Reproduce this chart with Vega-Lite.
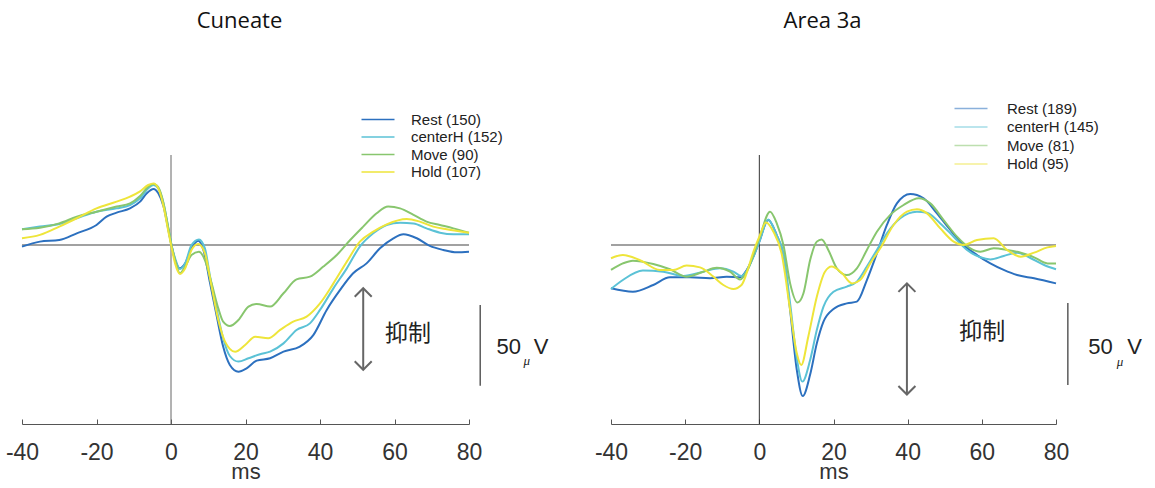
{
  "$schema": "https://vega.github.io/schema/vega-lite/v6.json",
  "background": "white",
  "padding": {"left": 5, "top": 10, "right": 5, "bottom": 5},
  "spacing": 45,
  "config": {
    "view": {"stroke": null},
    "font": "Liberation Sans",
    "axisX": {
      "tickSize": -5,
      "labelPadding": 22,
      "labelFontSize": 23,
      "labelFont": "Liberation Sans",
      "labelColor": "#333",
      "labelFlush": false,
      "labelOverlap": false,
      "domainColor": "#555",
      "tickColor": "#555",
      "grid": false,
      "titleFontSize": 22,
      "titleFont": "Liberation Sans",
      "titleFontWeight": "normal",
      "titleColor": "#333",
      "titlePadding": -3
    },
    "legend": {
      "orient": "none",
      "title": null,
      "padding": 0,
      "symbolType": "M-3,0H3",
      "symbolSize": 121,
      "symbolStrokeWidth": 1.3,
      "labelFontSize": 15,
      "labelFont": "Liberation Sans",
      "labelColor": "#222"
    }
  },
  "resolve": {"scale": {"color": "independent", "x": "independent", "y": "independent"}},
  "datasets": {
    "cun": [
      {"t": -40, "v": -1.0, "s": "Rest (150)"}, {"t": -35.2, "v": 2.1, "s": "Rest (150)"}, {"t": -30, "v": 3.1, "s": "Rest (150)"}, {"t": -25.3, "v": 7.3, "s": "Rest (150)"}, {"t": -20, "v": 12.5, "s": "Rest (150)"}, {"t": -17.3, "v": 17.7, "s": "Rest (150)"}, {"t": -14.6, "v": 20.2, "s": "Rest (150)"}, {"t": -11, "v": 22.9, "s": "Rest (150)"}, {"t": -8.3, "v": 27.1, "s": "Rest (150)"}, {"t": -6.5, "v": 32.3, "s": "Rest (150)"}, {"t": -4.7, "v": 35, "s": "Rest (150)"}, {"t": -3.4, "v": 32.3, "s": "Rest (150)"}, {"t": -2, "v": 24, "s": "Rest (150)"}, {"t": -0.7, "v": 9.4, "s": "Rest (150)"}, {"t": 0.2, "v": -1, "s": "Rest (150)"}, {"t": 1.1, "v": -9.4, "s": "Rest (150)"}, {"t": 2.4, "v": -14.6, "s": "Rest (150)"}, {"t": 3.8, "v": -11.5, "s": "Rest (150)"}, {"t": 5.5, "v": -2.1, "s": "Rest (150)"}, {"t": 7.3, "v": 2.7, "s": "Rest (150)"}, {"t": 8.7, "v": -3.1, "s": "Rest (150)"}, {"t": 10.5, "v": -24, "s": "Rest (150)"}, {"t": 12.3, "v": -44.8, "s": "Rest (150)"}, {"t": 14, "v": -63.5, "s": "Rest (150)"}, {"t": 15.8, "v": -75, "s": "Rest (150)"}, {"t": 18.1, "v": -79.2, "s": "Rest (150)"}, {"t": 20.3, "v": -77.1, "s": "Rest (150)"}, {"t": 23, "v": -72.3, "s": "Rest (150)"}, {"t": 26.6, "v": -70.8, "s": "Rest (150)"}, {"t": 30.2, "v": -66.7, "s": "Rest (150)"}, {"t": 34.6, "v": -63.5, "s": "Rest (150)"}, {"t": 38.2, "v": -56.3, "s": "Rest (150)"}, {"t": 41.8, "v": -40.6, "s": "Rest (150)"}, {"t": 45.4, "v": -28.1, "s": "Rest (150)"}, {"t": 48.9, "v": -17.7, "s": "Rest (150)"}, {"t": 52.5, "v": -11.5, "s": "Rest (150)"}, {"t": 56.1, "v": -2.1, "s": "Rest (150)"}, {"t": 59.7, "v": 4.2, "s": "Rest (150)"}, {"t": 62.4, "v": 6.7, "s": "Rest (150)"}, {"t": 66, "v": 4.2, "s": "Rest (150)"}, {"t": 69.5, "v": -0.6, "s": "Rest (150)"}, {"t": 73.1, "v": -3.1, "s": "Rest (150)"}, {"t": 76.7, "v": -4.6, "s": "Rest (150)"}, {"t": 80, "v": -4.2, "s": "Rest (150)"},
      {"t": -40, "v": 9.8, "s": "centerH (152)"}, {"t": -35.2, "v": 11.5, "s": "centerH (152)"}, {"t": -30, "v": 13.1, "s": "centerH (152)"}, {"t": -25.3, "v": 16.7, "s": "centerH (152)"}, {"t": -20, "v": 20.8, "s": "centerH (152)"}, {"t": -14.6, "v": 22.9, "s": "centerH (152)"}, {"t": -11, "v": 25, "s": "centerH (152)"}, {"t": -8.3, "v": 29.2, "s": "centerH (152)"}, {"t": -6.1, "v": 35.4, "s": "centerH (152)"}, {"t": -4.7, "v": 37.5, "s": "centerH (152)"}, {"t": -3.4, "v": 35.4, "s": "centerH (152)"}, {"t": -2, "v": 26, "s": "centerH (152)"}, {"t": -0.7, "v": 10.4, "s": "centerH (152)"}, {"t": 0.2, "v": -0.6, "s": "centerH (152)"}, {"t": 1.1, "v": -8.3, "s": "centerH (152)"}, {"t": 2.4, "v": -15, "s": "centerH (152)"}, {"t": 3.8, "v": -11.5, "s": "centerH (152)"}, {"t": 5.5, "v": 0, "s": "centerH (152)"}, {"t": 7.5, "v": 3.5, "s": "centerH (152)"}, {"t": 9.1, "v": -2.1, "s": "centerH (152)"}, {"t": 10.5, "v": -19.8, "s": "centerH (152)"}, {"t": 12.3, "v": -40.6, "s": "centerH (152)"}, {"t": 14, "v": -58.3, "s": "centerH (152)"}, {"t": 15.8, "v": -69.4, "s": "centerH (152)"}, {"t": 18.1, "v": -72.9, "s": "centerH (152)"}, {"t": 20.8, "v": -70.8, "s": "centerH (152)"}, {"t": 23.9, "v": -68.3, "s": "centerH (152)"}, {"t": 26.6, "v": -66.7, "s": "centerH (152)"}, {"t": 30.2, "v": -61.5, "s": "centerH (152)"}, {"t": 33.7, "v": -53.1, "s": "centerH (152)"}, {"t": 37.3, "v": -49, "s": "centerH (152)"}, {"t": 40, "v": -40.6, "s": "centerH (152)"}, {"t": 43.6, "v": -27.1, "s": "centerH (152)"}, {"t": 47.2, "v": -14.6, "s": "centerH (152)"}, {"t": 50.7, "v": -1, "s": "centerH (152)"}, {"t": 54.3, "v": 7.3, "s": "centerH (152)"}, {"t": 57.9, "v": 12.5, "s": "centerH (152)"}, {"t": 61.5, "v": 13.9, "s": "centerH (152)"}, {"t": 65.1, "v": 13.5, "s": "centerH (152)"}, {"t": 68.6, "v": 10.4, "s": "centerH (152)"}, {"t": 72.2, "v": 7.7, "s": "centerH (152)"}, {"t": 75.8, "v": 6.7, "s": "centerH (152)"}, {"t": 80, "v": 6.7, "s": "centerH (152)"},
      {"t": -40, "v": 9.8, "s": "Move (90)"}, {"t": -35.2, "v": 10.8, "s": "Move (90)"}, {"t": -30, "v": 13.5, "s": "Move (90)"}, {"t": -25.3, "v": 17.7, "s": "Move (90)"}, {"t": -20, "v": 20.8, "s": "Move (90)"}, {"t": -14.6, "v": 24, "s": "Move (90)"}, {"t": -11, "v": 26, "s": "Move (90)"}, {"t": -8.3, "v": 30.6, "s": "Move (90)"}, {"t": -6.1, "v": 36.5, "s": "Move (90)"}, {"t": -4.7, "v": 38.1, "s": "Move (90)"}, {"t": -3.4, "v": 36, "s": "Move (90)"}, {"t": -2, "v": 26, "s": "Move (90)"}, {"t": -0.7, "v": 10.4, "s": "Move (90)"}, {"t": 0.2, "v": -1, "s": "Move (90)"}, {"t": 1.1, "v": -9.4, "s": "Move (90)"}, {"t": 2.4, "v": -17.7, "s": "Move (90)"}, {"t": 3.8, "v": -13.5, "s": "Move (90)"}, {"t": 5.5, "v": -6.3, "s": "Move (90)"}, {"t": 7.5, "v": -4.2, "s": "Move (90)"}, {"t": 9.1, "v": -9.4, "s": "Move (90)"}, {"t": 10.9, "v": -24, "s": "Move (90)"}, {"t": 12.7, "v": -39.6, "s": "Move (90)"}, {"t": 14, "v": -47.9, "s": "Move (90)"}, {"t": 15.8, "v": -50.6, "s": "Move (90)"}, {"t": 18.1, "v": -46.9, "s": "Move (90)"}, {"t": 20.8, "v": -38.5, "s": "Move (90)"}, {"t": 23, "v": -36.9, "s": "Move (90)"}, {"t": 26.6, "v": -38.5, "s": "Move (90)"}, {"t": 30.2, "v": -30.2, "s": "Move (90)"}, {"t": 33.7, "v": -21.5, "s": "Move (90)"}, {"t": 37.3, "v": -19.8, "s": "Move (90)"}, {"t": 40.9, "v": -13.5, "s": "Move (90)"}, {"t": 44.5, "v": -6.3, "s": "Move (90)"}, {"t": 48.1, "v": 3.1, "s": "Move (90)"}, {"t": 51.6, "v": 11.5, "s": "Move (90)"}, {"t": 55.2, "v": 19.8, "s": "Move (90)"}, {"t": 58.3, "v": 24, "s": "Move (90)"}, {"t": 61.5, "v": 22.9, "s": "Move (90)"}, {"t": 65.1, "v": 18.8, "s": "Move (90)"}, {"t": 68.6, "v": 14.6, "s": "Move (90)"}, {"t": 72.2, "v": 12.5, "s": "Move (90)"}, {"t": 75.8, "v": 10.4, "s": "Move (90)"}, {"t": 80, "v": 7.7, "s": "Move (90)"},
      {"t": -40, "v": 4.2, "s": "Hold (107)"}, {"t": -35.2, "v": 6.3, "s": "Hold (107)"}, {"t": -30, "v": 11.5, "s": "Hold (107)"}, {"t": -25.3, "v": 16.7, "s": "Hold (107)"}, {"t": -20, "v": 22.9, "s": "Hold (107)"}, {"t": -14.6, "v": 27.1, "s": "Hold (107)"}, {"t": -11, "v": 30.2, "s": "Hold (107)"}, {"t": -8.3, "v": 33.5, "s": "Hold (107)"}, {"t": -6.1, "v": 37.5, "s": "Hold (107)"}, {"t": -4.7, "v": 38.5, "s": "Hold (107)"}, {"t": -3.4, "v": 35.4, "s": "Hold (107)"}, {"t": -2, "v": 24, "s": "Hold (107)"}, {"t": -0.7, "v": 8.3, "s": "Hold (107)"}, {"t": 0.2, "v": -2.1, "s": "Hold (107)"}, {"t": 1.1, "v": -11.5, "s": "Hold (107)"}, {"t": 2.4, "v": -18.1, "s": "Hold (107)"}, {"t": 3.8, "v": -14.6, "s": "Hold (107)"}, {"t": 5.5, "v": -3.1, "s": "Hold (107)"}, {"t": 7.3, "v": 0.6, "s": "Hold (107)"}, {"t": 9.1, "v": -5.2, "s": "Hold (107)"}, {"t": 10.9, "v": -26, "s": "Hold (107)"}, {"t": 12.7, "v": -46.9, "s": "Hold (107)"}, {"t": 14.5, "v": -60.4, "s": "Hold (107)"}, {"t": 17.2, "v": -66.7, "s": "Hold (107)"}, {"t": 19.9, "v": -62.5, "s": "Hold (107)"}, {"t": 22.6, "v": -57.3, "s": "Hold (107)"}, {"t": 26.1, "v": -58.3, "s": "Hold (107)"}, {"t": 29.3, "v": -53.1, "s": "Hold (107)"}, {"t": 32.8, "v": -47.9, "s": "Hold (107)"}, {"t": 36.4, "v": -44.8, "s": "Hold (107)"}, {"t": 40, "v": -36.5, "s": "Hold (107)"}, {"t": 43.6, "v": -24, "s": "Hold (107)"}, {"t": 47.2, "v": -10.4, "s": "Hold (107)"}, {"t": 50.7, "v": 2.1, "s": "Hold (107)"}, {"t": 54.3, "v": 8.3, "s": "Hold (107)"}, {"t": 57.9, "v": 12.9, "s": "Hold (107)"}, {"t": 63.3, "v": 16.3, "s": "Hold (107)"}, {"t": 66.8, "v": 14.6, "s": "Hold (107)"}, {"t": 70.4, "v": 11.5, "s": "Hold (107)"}, {"t": 74, "v": 9.8, "s": "Hold (107)"}, {"t": 80, "v": 7.7, "s": "Hold (107)"}
    ],
    "a3a": [
      {"t": -40, "v": -27.1, "s": "Rest (189)"}, {"t": -34.1, "v": -29.2, "s": "Rest (189)"}, {"t": -28.6, "v": -25, "s": "Rest (189)"}, {"t": -24.1, "v": -20.2, "s": "Rest (189)"}, {"t": -18.7, "v": -20.2, "s": "Rest (189)"}, {"t": -13.3, "v": -20.8, "s": "Rest (189)"}, {"t": -8.8, "v": -19.8, "s": "Rest (189)"}, {"t": -5.2, "v": -20.2, "s": "Rest (189)"}, {"t": -3.4, "v": -15.6, "s": "Rest (189)"}, {"t": -1.6, "v": -7.3, "s": "Rest (189)"}, {"t": 0, "v": 2.1, "s": "Rest (189)"}, {"t": 2.4, "v": 15.6, "s": "Rest (189)"}, {"t": 4.7, "v": 6, "s": "Rest (189)"}, {"t": 6.5, "v": -6.3, "s": "Rest (189)"}, {"t": 8.3, "v": -40.6, "s": "Rest (189)"}, {"t": 10.1, "v": -78, "s": "Rest (189)"}, {"t": 11.7, "v": -94.4, "s": "Rest (189)"}, {"t": 13.7, "v": -81, "s": "Rest (189)"}, {"t": 15.5, "v": -61.5, "s": "Rest (189)"}, {"t": 17.3, "v": -47.9, "s": "Rest (189)"}, {"t": 20, "v": -40, "s": "Rest (189)"}, {"t": 23.6, "v": -36.5, "s": "Rest (189)"}, {"t": 26.3, "v": -35.4, "s": "Rest (189)"}, {"t": 29, "v": -21.9, "s": "Rest (189)"}, {"t": 31.7, "v": -5.2, "s": "Rest (189)"}, {"t": 34.4, "v": 12.5, "s": "Rest (189)"}, {"t": 37.1, "v": 26, "s": "Rest (189)"}, {"t": 40.7, "v": 31.9, "s": "Rest (189)"}, {"t": 44.3, "v": 29.2, "s": "Rest (189)"}, {"t": 47.9, "v": 19.8, "s": "Rest (189)"}, {"t": 51.5, "v": 9.4, "s": "Rest (189)"}, {"t": 55.1, "v": 0, "s": "Rest (189)"}, {"t": 58.7, "v": -6.3, "s": "Rest (189)"}, {"t": 62.3, "v": -11.5, "s": "Rest (189)"}, {"t": 65.9, "v": -15.6, "s": "Rest (189)"}, {"t": 69.5, "v": -18.8, "s": "Rest (189)"}, {"t": 74.1, "v": -20.8, "s": "Rest (189)"}, {"t": 80, "v": -24, "s": "Rest (189)"},
      {"t": -40, "v": -27.5, "s": "centerH (145)"}, {"t": -36.8, "v": -21.9, "s": "centerH (145)"}, {"t": -31.4, "v": -16, "s": "centerH (145)"}, {"t": -25.9, "v": -16.7, "s": "centerH (145)"}, {"t": -20.5, "v": -19.4, "s": "centerH (145)"}, {"t": -15.1, "v": -16.7, "s": "centerH (145)"}, {"t": -10.6, "v": -14.6, "s": "centerH (145)"}, {"t": -7, "v": -16.7, "s": "centerH (145)"}, {"t": -4.8, "v": -19.4, "s": "centerH (145)"}, {"t": -3, "v": -14.6, "s": "centerH (145)"}, {"t": -1.6, "v": -7.3, "s": "centerH (145)"}, {"t": 0, "v": 2.1, "s": "centerH (145)"}, {"t": 2.4, "v": 16, "s": "centerH (145)"}, {"t": 4.7, "v": 6, "s": "centerH (145)"}, {"t": 6.5, "v": -5.2, "s": "centerH (145)"}, {"t": 8.3, "v": -36.5, "s": "centerH (145)"}, {"t": 10.1, "v": -70.8, "s": "centerH (145)"}, {"t": 11.6, "v": -85.4, "s": "centerH (145)"}, {"t": 13.7, "v": -71.9, "s": "centerH (145)"}, {"t": 15.5, "v": -53.1, "s": "centerH (145)"}, {"t": 17.3, "v": -38.5, "s": "centerH (145)"}, {"t": 20, "v": -29.2, "s": "centerH (145)"}, {"t": 23.6, "v": -26, "s": "centerH (145)"}, {"t": 26.3, "v": -22.9, "s": "centerH (145)"}, {"t": 29, "v": -13.5, "s": "centerH (145)"}, {"t": 31.7, "v": -3.1, "s": "centerH (145)"}, {"t": 34.4, "v": 7.3, "s": "centerH (145)"}, {"t": 38, "v": 16.7, "s": "centerH (145)"}, {"t": 42.5, "v": 20.8, "s": "centerH (145)"}, {"t": 45.2, "v": 20.2, "s": "centerH (145)"}, {"t": 48.8, "v": 13.5, "s": "centerH (145)"}, {"t": 52.4, "v": 5.2, "s": "centerH (145)"}, {"t": 56, "v": -3.1, "s": "centerH (145)"}, {"t": 59.6, "v": -7.7, "s": "centerH (145)"}, {"t": 62.3, "v": -9, "s": "centerH (145)"}, {"t": 65.9, "v": -6.9, "s": "centerH (145)"}, {"t": 69.5, "v": -4.8, "s": "centerH (145)"}, {"t": 73.2, "v": -8.3, "s": "centerH (145)"}, {"t": 76.8, "v": -12.5, "s": "centerH (145)"}, {"t": 80, "v": -15.2, "s": "centerH (145)"},
      {"t": -40, "v": -15.6, "s": "Move (81)"}, {"t": -36.8, "v": -11.5, "s": "Move (81)"}, {"t": -34.1, "v": -9.8, "s": "Move (81)"}, {"t": -28.6, "v": -11.9, "s": "Move (81)"}, {"t": -24.1, "v": -15.2, "s": "Move (81)"}, {"t": -19.6, "v": -19.8, "s": "Move (81)"}, {"t": -15.1, "v": -16.7, "s": "Move (81)"}, {"t": -11.5, "v": -14.2, "s": "Move (81)"}, {"t": -7.9, "v": -16.7, "s": "Move (81)"}, {"t": -5.2, "v": -21.5, "s": "Move (81)"}, {"t": -3.4, "v": -16.7, "s": "Move (81)"}, {"t": -1.6, "v": -6.3, "s": "Move (81)"}, {"t": 0, "v": 4.2, "s": "Move (81)"}, {"t": 2.9, "v": 20.8, "s": "Move (81)"}, {"t": 4.7, "v": 13.5, "s": "Move (81)"}, {"t": 6.5, "v": 0, "s": "Move (81)"}, {"t": 8.3, "v": -24, "s": "Move (81)"}, {"t": 10.3, "v": -36, "s": "Move (81)"}, {"t": 11.9, "v": -30.2, "s": "Move (81)"}, {"t": 13.7, "v": -9.4, "s": "Move (81)"}, {"t": 15.5, "v": 2.1, "s": "Move (81)"}, {"t": 16.8, "v": 3.5, "s": "Move (81)"}, {"t": 18.6, "v": -3.1, "s": "Move (81)"}, {"t": 20.9, "v": -14.6, "s": "Move (81)"}, {"t": 23.6, "v": -18.8, "s": "Move (81)"}, {"t": 26.3, "v": -14.6, "s": "Move (81)"}, {"t": 29, "v": -3.1, "s": "Move (81)"}, {"t": 31.7, "v": 8.3, "s": "Move (81)"}, {"t": 35.3, "v": 18.8, "s": "Move (81)"}, {"t": 38.9, "v": 25, "s": "Move (81)"}, {"t": 43, "v": 29.2, "s": "Move (81)"}, {"t": 46.1, "v": 26, "s": "Move (81)"}, {"t": 49.7, "v": 15.6, "s": "Move (81)"}, {"t": 53.3, "v": 5.2, "s": "Move (81)"}, {"t": 56.9, "v": -2.1, "s": "Move (81)"}, {"t": 59.6, "v": -4.2, "s": "Move (81)"}, {"t": 63.2, "v": -2.1, "s": "Move (81)"}, {"t": 66.8, "v": -3.1, "s": "Move (81)"}, {"t": 70.5, "v": -4.8, "s": "Move (81)"}, {"t": 74.1, "v": -7.7, "s": "Move (81)"}, {"t": 77.7, "v": -11.5, "s": "Move (81)"}, {"t": 80, "v": -11.5, "s": "Move (81)"},
      {"t": -40, "v": -8.3, "s": "Hold (95)"}, {"t": -36.8, "v": -6.3, "s": "Hold (95)"}, {"t": -32.3, "v": -9.4, "s": "Hold (95)"}, {"t": -26.8, "v": -15.6, "s": "Hold (95)"}, {"t": -23.2, "v": -15.6, "s": "Hold (95)"}, {"t": -19.6, "v": -12.9, "s": "Hold (95)"}, {"t": -16, "v": -14, "s": "Hold (95)"}, {"t": -12.4, "v": -19.8, "s": "Hold (95)"}, {"t": -9.7, "v": -25, "s": "Hold (95)"}, {"t": -7, "v": -27.5, "s": "Hold (95)"}, {"t": -4.8, "v": -25, "s": "Hold (95)"}, {"t": -3, "v": -14.6, "s": "Hold (95)"}, {"t": -1.6, "v": -4.2, "s": "Hold (95)"}, {"t": 0, "v": 5.2, "s": "Hold (95)"}, {"t": 1.8, "v": 14, "s": "Hold (95)"}, {"t": 3.8, "v": 8.3, "s": "Hold (95)"}, {"t": 6, "v": -5.2, "s": "Hold (95)"}, {"t": 8.3, "v": -40.6, "s": "Hold (95)"}, {"t": 10.1, "v": -67.7, "s": "Hold (95)"}, {"t": 11.3, "v": -75, "s": "Hold (95)"}, {"t": 13.2, "v": -57.3, "s": "Hold (95)"}, {"t": 15.5, "v": -32.3, "s": "Hold (95)"}, {"t": 17.7, "v": -16.7, "s": "Hold (95)"}, {"t": 19.5, "v": -13.5, "s": "Hold (95)"}, {"t": 22.3, "v": -17.7, "s": "Hold (95)"}, {"t": 25, "v": -24, "s": "Hold (95)"}, {"t": 27.2, "v": -21.9, "s": "Hold (95)"}, {"t": 29.9, "v": -11.5, "s": "Hold (95)"}, {"t": 32.6, "v": -2.1, "s": "Hold (95)"}, {"t": 36.2, "v": 12.5, "s": "Hold (95)"}, {"t": 39.8, "v": 20.8, "s": "Hold (95)"}, {"t": 42.5, "v": 22.3, "s": "Hold (95)"}, {"t": 45.2, "v": 19.8, "s": "Hold (95)"}, {"t": 48.8, "v": 10.4, "s": "Hold (95)"}, {"t": 52.4, "v": 2.1, "s": "Hold (95)"}, {"t": 55.1, "v": 0, "s": "Hold (95)"}, {"t": 58.7, "v": 3.1, "s": "Hold (95)"}, {"t": 63.2, "v": 4.2, "s": "Hold (95)"}, {"t": 66.8, "v": -3.1, "s": "Hold (95)"}, {"t": 70.5, "v": -7.3, "s": "Hold (95)"}, {"t": 74.1, "v": -4.8, "s": "Hold (95)"}, {"t": 77.7, "v": -1.5, "s": "Hold (95)"}, {"t": 80, "v": -0.6, "s": "Hold (95)"}
    ]
  },
  "hconcat": [
    {
      "width": 447,
      "height": 269,
      "title": {"text": "Cuneate", "font": "Open Sans", "fontSize": 22, "fontWeight": "normal", "color": "#111", "frame": "group", "anchor": "middle", "baseline": "alphabetic", "offset": 62, "dx": -6},
      "layer": [
        {"data": {"values": [{"v": 0}]}, "mark": {"type": "rule", "color": "#444", "strokeWidth": 1.2},
         "encoding": {"y": {"field": "v", "type": "quantitative", "scale": {"domain": [-111.9, 56.25], "nice": false, "zero": false}, "axis": null}}},
        {"data": {"values": [{"t": 0}]}, "mark": {"type": "rule", "color": "#666", "strokeWidth": 1},
         "encoding": {"x": {"field": "t", "type": "quantitative", "title": "ms", "scale": {"domain": [-40, 80], "nice": false, "zero": false}, "axis": {"values": [-40, -20, 0, 20, 40, 60, 80], "labelExpr": "'' + datum.value"}}}},
        {"data": {"name": "cun"}, "mark": {"type": "line", "interpolate": "monotone", "strokeWidth": 2},
         "encoding": {
           "x": {"field": "t", "type": "quantitative", "title": "ms", "scale": {"domain": [-40, 80], "nice": false, "zero": false}, "axis": {"values": [-40, -20, 0, 20, 40, 60, 80], "labelExpr": "'' + datum.value"}},
           "y": {"field": "v", "type": "quantitative", "scale": {"domain": [-111.9, 56.25], "nice": false, "zero": false}, "axis": null},
           "color": {"field": "s", "type": "nominal",
             "scale": {"domain": ["Rest (150)", "centerH (152)", "Move (90)", "Hold (107)"], "range": ["#2c70bf", "#5bc2d6", "#88c66e", "#eee53a"]},
             "legend": {"legendX": 348.5, "legendY": -43, "labelOffset": 25.5, "rowPadding": 1.5}}
         }},
        {"data": {"values": [{"t": 51.6, "v": -27, "v2": -78}]}, "mark": {"type": "rule", "color": "#666", "strokeWidth": 2},
         "encoding": {
           "x": {"field": "t", "type": "quantitative", "title": "ms", "scale": {"domain": [-40, 80], "nice": false, "zero": false}, "axis": {"values": [-40, -20, 0, 20, 40, 60, 80], "labelExpr": "'' + datum.value"}},
           "y": {"field": "v", "type": "quantitative", "scale": {"domain": [-111.9, 56.25], "nice": false, "zero": false}, "axis": null},
           "y2": {"field": "v2"}}},
        {"data": {"values": [{"t": 51.6, "v": -27}]}, "mark": {"type": "point", "shape": "M-1,1L0,0L1,1", "filled": false, "size": 289, "stroke": "#666", "strokeWidth": 2, "opacity": 1},
         "encoding": {
           "x": {"field": "t", "type": "quantitative", "title": "ms", "scale": {"domain": [-40, 80], "nice": false, "zero": false}, "axis": {"values": [-40, -20, 0, 20, 40, 60, 80], "labelExpr": "'' + datum.value"}},
           "y": {"field": "v", "type": "quantitative", "scale": {"domain": [-111.9, 56.25], "nice": false, "zero": false}, "axis": null}}},
        {"data": {"values": [{"t": 51.6, "v": -78}]}, "mark": {"type": "point", "shape": "M-1,-1L0,0L1,-1", "filled": false, "size": 289, "stroke": "#666", "strokeWidth": 2, "opacity": 1},
         "encoding": {
           "x": {"field": "t", "type": "quantitative", "title": "ms", "scale": {"domain": [-40, 80], "nice": false, "zero": false}, "axis": {"values": [-40, -20, 0, 20, 40, 60, 80], "labelExpr": "'' + datum.value"}},
           "y": {"field": "v", "type": "quantitative", "scale": {"domain": [-111.9, 56.25], "nice": false, "zero": false}, "axis": null}}},
        {"data": {"values": [{"t": 83, "v": -37.5, "v2": -88}]}, "mark": {"type": "rule", "color": "#333", "strokeWidth": 1.2},
         "encoding": {
           "x": {"field": "t", "type": "quantitative", "title": "ms", "scale": {"domain": [-40, 80], "nice": false, "zero": false}, "axis": {"values": [-40, -20, 0, 20, 40, 60, 80], "labelExpr": "'' + datum.value"}},
           "y": {"field": "v", "type": "quantitative", "scale": {"domain": [-111.9, 56.25], "nice": false, "zero": false}, "axis": null},
           "y2": {"field": "v2"}}},
        {"data": {"values": [{"t": 63.6, "v": -55.6, "label": "抑制"}]}, "mark": {"type": "text", "font": "Noto Sans CJK JP", "fontSize": 23, "color": "#222", "align": "center", "baseline": "middle"},
         "encoding": {
           "x": {"field": "t", "type": "quantitative", "title": "ms", "scale": {"domain": [-40, 80], "nice": false, "zero": false}, "axis": {"values": [-40, -20, 0, 20, 40, 60, 80], "labelExpr": "'' + datum.value"}},
           "y": {"field": "v", "type": "quantitative", "scale": {"domain": [-111.9, 56.25], "nice": false, "zero": false}, "axis": null},
           "text": {"field": "label"}}},
        {"data": {"values": [{"t": 87.4, "v": -63.8, "label": "50"}, {"t": 97.4, "v": -63.8, "label": "V"}]}, "mark": {"type": "text", "font": "Liberation Sans", "fontSize": 22, "color": "#222", "align": "left", "baseline": "middle"},
         "encoding": {
           "x": {"field": "t", "type": "quantitative", "title": "ms", "scale": {"domain": [-40, 80], "nice": false, "zero": false}, "axis": {"values": [-40, -20, 0, 20, 40, 60, 80], "labelExpr": "'' + datum.value"}},
           "y": {"field": "v", "type": "quantitative", "scale": {"domain": [-111.9, 56.25], "nice": false, "zero": false}, "axis": null},
           "text": {"field": "label"}}},
        {"data": {"values": [{"t": 94.6, "v": -72.5, "label": "μ"}]}, "mark": {"type": "text", "font": "Liberation Serif", "fontSize": 13, "fontStyle": "italic", "color": "#222", "align": "left", "baseline": "middle"},
         "encoding": {
           "x": {"field": "t", "type": "quantitative", "title": "ms", "scale": {"domain": [-40, 80], "nice": false, "zero": false}, "axis": {"values": [-40, -20, 0, 20, 40, 60, 80], "labelExpr": "'' + datum.value"}},
           "y": {"field": "v", "type": "quantitative", "scale": {"domain": [-111.9, 56.25], "nice": false, "zero": false}, "axis": null},
           "text": {"field": "label"}}}
      ]
    },
    {
      "width": 445,
      "height": 269,
      "title": {"text": "Area 3a", "font": "Open Sans", "fontSize": 22, "fontWeight": "normal", "color": "#111", "frame": "group", "anchor": "middle", "baseline": "alphabetic", "offset": 51, "dx": -11},
      "layer": [
        {"data": {"values": [{"v": 0}]}, "mark": {"type": "rule", "color": "#444", "strokeWidth": 1.2},
         "encoding": {"y": {"field": "v", "type": "quantitative", "scale": {"domain": [-111.9, 56.25], "nice": false, "zero": false}, "axis": null}}},
        {"data": {"values": [{"t": 0}]}, "mark": {"type": "rule", "color": "#333", "strokeWidth": 1},
         "encoding": {"x": {"field": "t", "type": "quantitative", "title": "ms", "scale": {"domain": [-40, 80], "nice": false, "zero": false}, "axis": {"values": [-40, -20, 0, 20, 40, 60, 80], "labelExpr": "'' + datum.value"}}}},
        {"data": {"name": "a3a"}, "mark": {"type": "line", "interpolate": "monotone", "strokeWidth": 2},
         "encoding": {
           "x": {"field": "t", "type": "quantitative", "title": "ms", "scale": {"domain": [-40, 80], "nice": false, "zero": false}, "axis": {"values": [-40, -20, 0, 20, 40, 60, 80], "labelExpr": "'' + datum.value"}},
           "y": {"field": "v", "type": "quantitative", "scale": {"domain": [-111.9, 56.25], "nice": false, "zero": false}, "axis": null},
           "color": {"field": "s", "type": "nominal",
             "scale": {"domain": ["Rest (189)", "centerH (145)", "Move (81)", "Hold (95)"], "range": ["#2c70bf", "#5bc2d6", "#88c66e", "#eee53a"]},
             "legend": {"legendX": 352.5, "legendY": -54, "labelOffset": 28.5, "rowPadding": 2.5, "symbolOpacity": 0.55}}
         }},
        {"data": {"values": [{"t": 39.8, "v": -24, "v2": -93.5}]}, "mark": {"type": "rule", "color": "#666", "strokeWidth": 2},
         "encoding": {
           "x": {"field": "t", "type": "quantitative", "title": "ms", "scale": {"domain": [-40, 80], "nice": false, "zero": false}, "axis": {"values": [-40, -20, 0, 20, 40, 60, 80], "labelExpr": "'' + datum.value"}},
           "y": {"field": "v", "type": "quantitative", "scale": {"domain": [-111.9, 56.25], "nice": false, "zero": false}, "axis": null},
           "y2": {"field": "v2"}}},
        {"data": {"values": [{"t": 39.8, "v": -24}]}, "mark": {"type": "point", "shape": "M-1,1L0,0L1,1", "filled": false, "size": 289, "stroke": "#666", "strokeWidth": 2, "opacity": 1},
         "encoding": {
           "x": {"field": "t", "type": "quantitative", "title": "ms", "scale": {"domain": [-40, 80], "nice": false, "zero": false}, "axis": {"values": [-40, -20, 0, 20, 40, 60, 80], "labelExpr": "'' + datum.value"}},
           "y": {"field": "v", "type": "quantitative", "scale": {"domain": [-111.9, 56.25], "nice": false, "zero": false}, "axis": null}}},
        {"data": {"values": [{"t": 39.8, "v": -93.5}]}, "mark": {"type": "point", "shape": "M-1,-1L0,0L1,-1", "filled": false, "size": 289, "stroke": "#666", "strokeWidth": 2, "opacity": 1},
         "encoding": {
           "x": {"field": "t", "type": "quantitative", "title": "ms", "scale": {"domain": [-40, 80], "nice": false, "zero": false}, "axis": {"values": [-40, -20, 0, 20, 40, 60, 80], "labelExpr": "'' + datum.value"}},
           "y": {"field": "v", "type": "quantitative", "scale": {"domain": [-111.9, 56.25], "nice": false, "zero": false}, "axis": null}}},
        {"data": {"values": [{"t": 83.2, "v": -36.3, "v2": -87.5}]}, "mark": {"type": "rule", "color": "#333", "strokeWidth": 1.2},
         "encoding": {
           "x": {"field": "t", "type": "quantitative", "title": "ms", "scale": {"domain": [-40, 80], "nice": false, "zero": false}, "axis": {"values": [-40, -20, 0, 20, 40, 60, 80], "labelExpr": "'' + datum.value"}},
           "y": {"field": "v", "type": "quantitative", "scale": {"domain": [-111.9, 56.25], "nice": false, "zero": false}, "axis": null},
           "y2": {"field": "v2"}}},
        {"data": {"values": [{"t": 60.1, "v": -54.2, "label": "抑制"}]}, "mark": {"type": "text", "font": "Noto Sans CJK JP", "fontSize": 23, "color": "#222", "align": "center", "baseline": "middle"},
         "encoding": {
           "x": {"field": "t", "type": "quantitative", "title": "ms", "scale": {"domain": [-40, 80], "nice": false, "zero": false}, "axis": {"values": [-40, -20, 0, 20, 40, 60, 80], "labelExpr": "'' + datum.value"}},
           "y": {"field": "v", "type": "quantitative", "scale": {"domain": [-111.9, 56.25], "nice": false, "zero": false}, "axis": null},
           "text": {"field": "label"}}},
        {"data": {"values": [{"t": 88.7, "v": -63.5, "label": "50"}, {"t": 99.2, "v": -63.5, "label": "V"}]}, "mark": {"type": "text", "font": "Liberation Sans", "fontSize": 22, "color": "#222", "align": "left", "baseline": "middle"},
         "encoding": {
           "x": {"field": "t", "type": "quantitative", "title": "ms", "scale": {"domain": [-40, 80], "nice": false, "zero": false}, "axis": {"values": [-40, -20, 0, 20, 40, 60, 80], "labelExpr": "'' + datum.value"}},
           "y": {"field": "v", "type": "quantitative", "scale": {"domain": [-111.9, 56.25], "nice": false, "zero": false}, "axis": null},
           "text": {"field": "label"}}},
        {"data": {"values": [{"t": 96.4, "v": -73.3, "label": "μ"}]}, "mark": {"type": "text", "font": "Liberation Serif", "fontSize": 13, "fontStyle": "italic", "color": "#222", "align": "left", "baseline": "middle"},
         "encoding": {
           "x": {"field": "t", "type": "quantitative", "title": "ms", "scale": {"domain": [-40, 80], "nice": false, "zero": false}, "axis": {"values": [-40, -20, 0, 20, 40, 60, 80], "labelExpr": "'' + datum.value"}},
           "y": {"field": "v", "type": "quantitative", "scale": {"domain": [-111.9, 56.25], "nice": false, "zero": false}, "axis": null},
           "text": {"field": "label"}}}
      ]
    }
  ]
}
